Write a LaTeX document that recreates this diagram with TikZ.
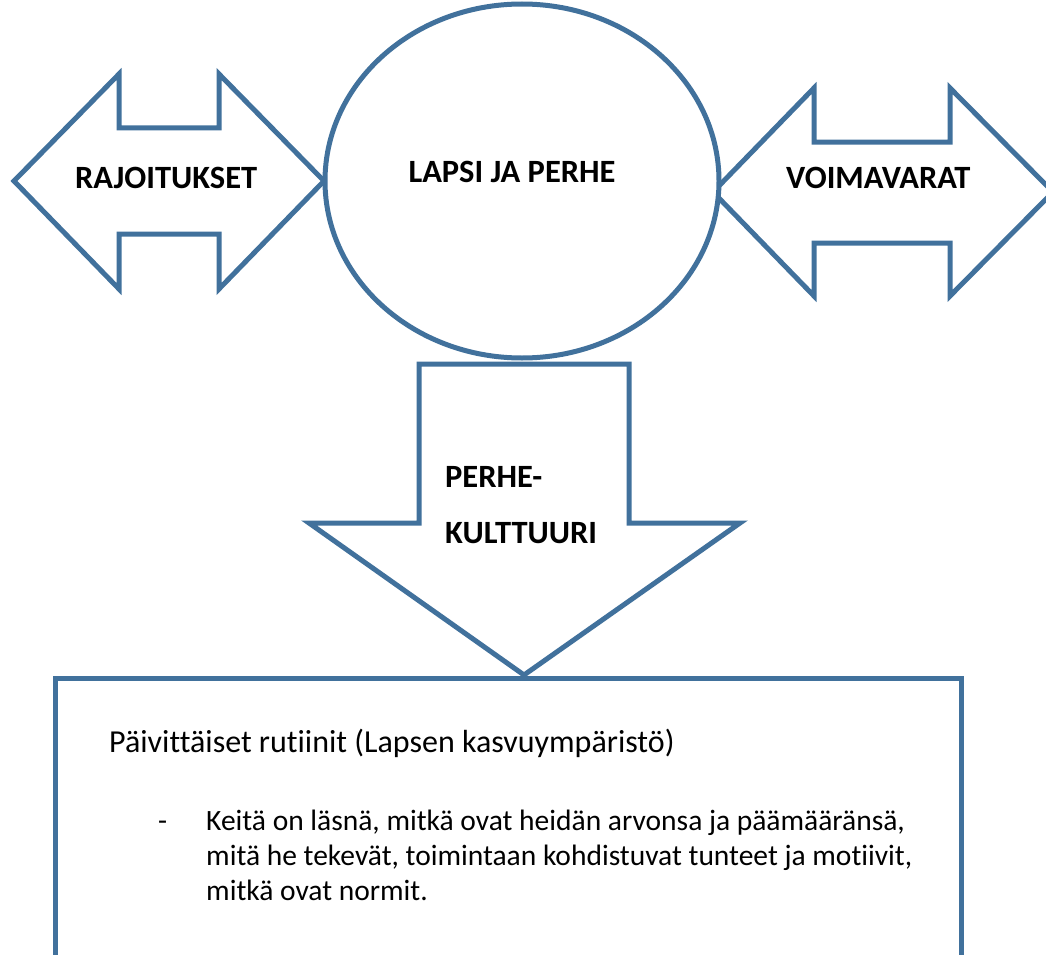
\documentclass[tikz,border=0pt]{standalone}
\usepackage{fontspec}
\setmainfont{Carlito}[Ligatures=NoCommon]
\definecolor{mSteelBlue}{HTML}{41719C}
\usetikzlibrary{positioning}

\begin{document}
\begin{tikzpicture}
		[x=1pt, y=-1pt,
		outline/.style ={draw=mSteelBlue, line width=5pt, fill=white, line join=miter},
		label/.style ={inner sep=0pt, anchor=base west, font=\fontsize{32.5}{36}\selectfont\bfseries},
		body/.style ={inner sep=0pt, anchor=base west, font=\fontsize{29.5}{35}\selectfont}]
		\useasboundingbox (0,0) rectangle (1046,955);
		\clip (0,0) rectangle (1046,955);

		% double arrows and circle
		\draw[outline] (14,181) -- (119,74) -- (119,128) -- (219,128) -- (219,74) -- (324,181)
			-- (219,289) -- (219,234) -- (119,234) -- (119,289) -- cycle;
		\draw[outline] (713,192) -- (814,88) -- (814,142) -- (950,142) -- (950,88) -- (1053,192)
			-- (950,296) -- (950,243) -- (814,243) -- (814,296) -- cycle;
		\draw[outline] (522,181) ellipse [x radius=197, y radius=177];

		% down arrow and box
		\draw[outline] (419,364) -- (629,364) -- (629,523) -- (740,523) -- (524,675)
			-- (309,523) -- (419,523) -- cycle;
		\draw[outline] (55,678) rectangle (961,985);

		\node[label] (r) at (75,188) {RAJOITUKSET};
		\node[label] (v) at (786,188) {VOIMAVARAT};
		\node[label, anchor=base] (lp) at (512,182) {LAPSI JA PERHE};
		\node[label] (p1) at (445,487) {PERHE-};
		\node[label] (p2) at (445,543) {KULTTUURI};

		\node[body, font=\fontsize{32}{35}\selectfont] (t) at (109,752) {Päivittäiset rutiinit (Lapsen kasvuympäristö)};
		\node[body] (d) at (158,830) {-};
		\node[body] (b1) at (206,830) {Keitä on läsnä, mitkä ovat heidän arvonsa ja päämääränsä,};
		\node[body] (b2) at (206,865) {mitä he tekevät, toimintaan kohdistuvat tunteet ja motiivit,};
		\node[body] (b3) at (206,900) {mitkä ovat normit.};

	\end{tikzpicture}
\end{document}
